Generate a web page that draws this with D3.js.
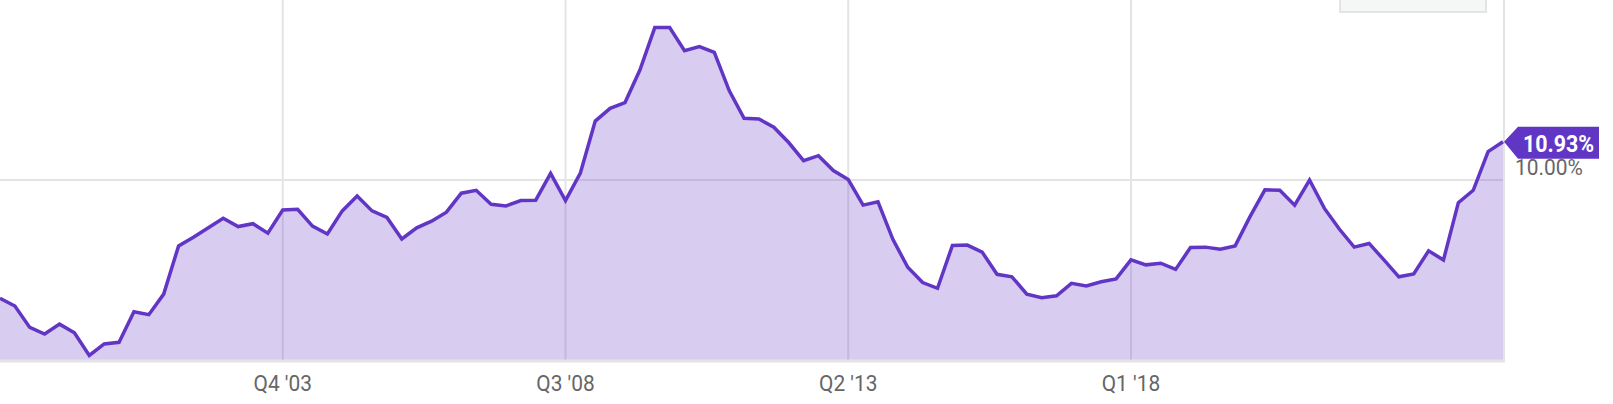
<!DOCTYPE html>
<html lang="en">
<head>
    <meta charset="UTF-8">
    <title>Quarterly rate</title>
    <script src="https://d3js.org/d3.v7.min.js"></script>
    <style>
        body { margin: 0; background: #fff; font-family: Roboto, Arial, sans-serif; }
        svg { display: block; }
    </style>
</head>
<body>
    <div id="chart"></div>
    <script>
        // quarterly values, Q1 '99 .. Q2 '24
        const firstYear = 1999;
        const values = [
            7.13, 6.94, 6.42, 6.26, 6.50, 6.29, 5.74, 6.02, 6.06, 6.80,
            6.73, 7.23, 8.40, 8.61, 8.84, 9.07, 8.87, 8.94, 8.71, 9.27,
            9.29, 8.88, 8.69, 9.25, 9.61, 9.25, 9.09, 8.57, 8.84, 9.00,
            9.22, 9.68, 9.75, 9.41, 9.37, 9.50, 9.51, 10.16, 9.50, 10.17,
            11.43, 11.74, 11.88, 12.67, 13.70, 13.70, 13.14, 13.24, 13.10, 12.17,
            11.50, 11.48, 11.28, 10.91, 10.47, 10.59, 10.23, 10.01, 9.39, 9.47,
            8.56, 7.88, 7.51, 7.37, 8.41, 8.42, 8.25, 7.71, 7.65, 7.23,
            7.14, 7.19, 7.49, 7.43, 7.53, 7.60, 8.06, 7.94, 7.98, 7.83,
            8.36, 8.37, 8.32, 8.40, 9.11, 9.76, 9.75, 9.39, 10.00, 9.31,
            8.81, 8.37, 8.46, 8.06, 7.65, 7.72, 8.28, 8.06, 9.45, 9.75,
            10.69, 10.93
        ];
        const quarters = values.map((v, i) =>
            "Q" + (i % 4 + 1) + " '" + String(firstYear + Math.floor(i / 4)).slice(2));
        const tickLabels = ["Q4 '03", "Q3 '08", "Q2 '13", "Q1 '18"];
        const gridValues = [10];

        const W = 1613, H = 404;
        const plotW = 1504, plotH = 360;

        const svg = d3.select("#chart").append("svg")
            .attr("width", W).attr("height", H);

        const x = d3.scaleLinear().domain([0, values.length - 1]).range([0, 1503]);
        const y = d3.scaleLinear().domain([5.63, 14.37]).range([plotH, 0]);

        // squeeze text a little, the original font is a condensed face
        function squeeze(k) {
            return function() { this.setAttribute("textLength", this.getComputedTextLength() * k); };
        }

        // grid
        svg.selectAll(".vgrid").data(tickLabels).enter().append("line")
            .attr("x1", d => x(quarters.indexOf(d))).attr("x2", d => x(quarters.indexOf(d)))
            .attr("y1", 0).attr("y2", plotH)
            .attr("stroke", "#e4e4e4").attr("stroke-width", 2);
        svg.selectAll(".hgrid").data(gridValues).enter().append("line")
            .attr("x1", 0).attr("x2", plotW)
            .attr("y1", d => y(d)).attr("y2", d => y(d))
            .attr("stroke", "#e4e4e4").attr("stroke-width", 2);
        svg.append("line")
            .attr("x1", plotW).attr("x2", plotW).attr("y1", 0).attr("y2", plotH)
            .attr("stroke", "#e4e4e4").attr("stroke-width", 2);

        // area + line
        const area = d3.area().x((d, i) => x(i)).y0(plotH).y1(d => y(d));
        const line = d3.line().x((d, i) => x(i)).y(d => y(d));
        svg.append("path").datum(values).attr("d", area)
            .attr("fill", "rgba(98,54,197,0.25)");
        svg.append("path").datum(values).attr("d", line)
            .attr("fill", "none").attr("stroke", "#6236c5").attr("stroke-width", 3.5);

        // baseline
        svg.append("line")
            .attr("x1", 0).attr("x2", plotW + 1).attr("y1", plotH + 1).attr("y2", plotH + 1)
            .attr("stroke", "#e4e4e4").attr("stroke-width", 3);

        // x tick labels
        svg.selectAll(".xlab").data(tickLabels).enter().append("text")
            .attr("x", d => x(quarters.indexOf(d)))
            .attr("y", 391)
            .attr("text-anchor", "middle")
            .attr("font-size", 22)
            .attr("fill", "#666")
            .text(d => d)
            .each(squeeze(0.95))
            .attr("lengthAdjust", "spacingAndGlyphs");

        // y label for gridline
        svg.selectAll(".ylab").data(gridValues).enter().append("text")
            .attr("x", 1515).attr("y", d => y(d) - 5)
            .attr("font-size", 22).attr("fill", "#666")
            .text(d => d.toFixed(2) + "%")
            .each(squeeze(0.95))
            .attr("lengthAdjust", "spacingAndGlyphs");

        // last value flag
        const last = values[values.length - 1];
        const lx = x(values.length - 1) + 1, ly = y(last);
        svg.append("path")
            .attr("d", `M${lx},${ly} L${lx + 14},${ly - 15} L1599,${ly - 15} L1599,${ly + 17} L${lx + 14},${ly + 17} Z`)
            .attr("fill", "#6236c5");
        svg.append("text")
            .attr("x", 1523).attr("y", ly + 10)
            .attr("font-size", 23).attr("font-weight", "bold").attr("fill", "#fff")
            .text(last.toFixed(2) + "%")
            .each(squeeze(0.93))
            .attr("lengthAdjust", "spacingAndGlyphs");

        // legend box (cut off at top)
        svg.append("rect")
            .attr("x", 1340).attr("y", -10).attr("width", 146).attr("height", 22)
            .attr("fill", "#f5f7f7").attr("stroke", "#e4e4e4").attr("stroke-width", 2);
    </script>
</body>
</html>
